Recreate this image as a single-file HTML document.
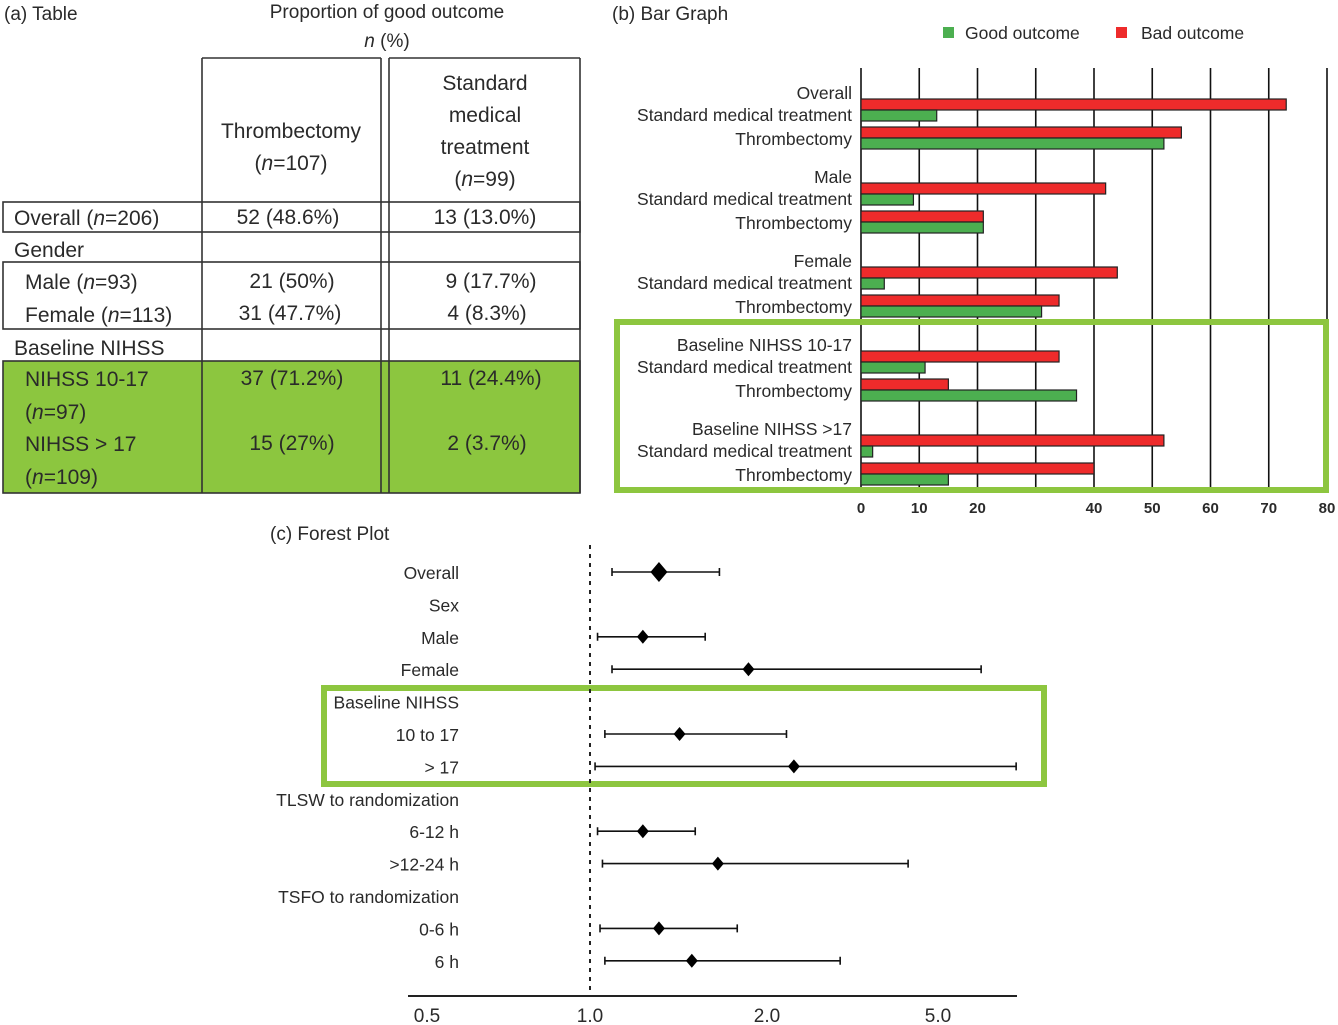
<!DOCTYPE html>
<html><head><meta charset="utf-8"><style>
html,body{margin:0;padding:0;background:#fff;}
svg{display:block;font-family:"Liberation Sans",sans-serif;}
text{fill:#2a2a2a;}
</style></head><body>
<svg id="fig" width="1338" height="1025" viewBox="0 0 1338 1025">
<g font-size="21">
  <text x="4" y="20" font-size="19">(a) Table</text>
  <text x="387" y="18" text-anchor="middle" font-size="19">Proportion of good outcome</text>
  <text x="387" y="47" text-anchor="middle" font-size="19"><tspan font-style="italic">n</tspan> (%)</text>
  <rect x="3" y="361" width="577" height="132" fill="#8cc63f"/>
  <g stroke="#333" stroke-width="1.6" fill="none">
    <line x1="202" y1="58" x2="202" y2="493"/><line x1="381" y1="58" x2="381" y2="493"/>
    <line x1="389" y1="58" x2="389" y2="493"/><line x1="580" y1="58" x2="580" y2="493"/>
    <line x1="202" y1="58" x2="381" y2="58"/><line x1="389" y1="58" x2="580" y2="58"/>
    <rect x="3" y="202" width="577" height="30"/>
    <rect x="3" y="262" width="577" height="67"/>
    <rect x="3" y="361" width="577" height="132"/>
  </g>
  <text x="291" y="138" text-anchor="middle">Thrombectomy</text>
  <text x="291" y="170" text-anchor="middle"><tspan>(</tspan><tspan font-style="italic">n</tspan><tspan>=107)</tspan></text>
  <text x="485" y="90" text-anchor="middle">Standard</text>
  <text x="485" y="122" text-anchor="middle">medical</text>
  <text x="485" y="154" text-anchor="middle">treatment</text>
  <text x="485" y="186" text-anchor="middle"><tspan>(</tspan><tspan font-style="italic">n</tspan><tspan>=99)</tspan></text>
  <text x="14" y="225">Overall (<tspan font-style="italic">n</tspan>=206)</text>
  <text x="288" y="224" text-anchor="middle">52 (48.6%)</text>
  <text x="485" y="224" text-anchor="middle">13 (13.0%)</text>
  <text x="14" y="257">Gender</text>
  <text x="25" y="289">Male (<tspan font-style="italic">n</tspan>=93)</text>
  <text x="292" y="288" text-anchor="middle">21 (50%)</text>
  <text x="491" y="288" text-anchor="middle">9 (17.7%)</text>
  <text x="25" y="322">Female (<tspan font-style="italic">n</tspan>=113)</text>
  <text x="290" y="320" text-anchor="middle">31 (47.7%)</text>
  <text x="487" y="320" text-anchor="middle">4 (8.3%)</text>
  <text x="14" y="355">Baseline NIHSS</text>
  <text x="25" y="386">NIHSS 10-17</text>
  <text x="25" y="419">(<tspan font-style="italic">n</tspan>=97)</text>
  <text x="292" y="385" text-anchor="middle">37 (71.2%)</text>
  <text x="491" y="385" text-anchor="middle">11 (24.4%)</text>
  <text x="25" y="451">NIHSS &gt; 17</text>
  <text x="25" y="484">(<tspan font-style="italic">n</tspan>=109)</text>
  <text x="292" y="450" text-anchor="middle">15 (27%)</text>
  <text x="487" y="450" text-anchor="middle">2 (3.7%)</text>
</g>
<g id="bar" font-size="17.5">
  <text x="612" y="20" font-size="19">(b) Bar Graph</text>
  <rect x="943" y="27" width="11" height="11" fill="#4caf50"/>
  <text x="965" y="39">Good outcome</text>
  <rect x="1116" y="27" width="11" height="11" fill="#ee2b2b"/>
  <text x="1141" y="39">Bad outcome</text>
  <g id="barGrid"></g><g id="barMarks"></g><g id="barLabels"></g>
  <rect x="617" y="322" width="709" height="168" fill="none" stroke="#8dc63f" stroke-width="6"/>
</g>
<g id="forest" font-size="17.5">
  <text x="270" y="540" font-size="19">(c) Forest Plot</text>
  <rect x="324" y="688" width="720" height="96" fill="none" stroke="#8dc63f" stroke-width="6"/>
  <line x1="590" y1="545" x2="590" y2="996" stroke="#222" stroke-width="2" stroke-dasharray="4,5"/>
  <line x1="408" y1="996" x2="1017" y2="996" stroke="#222" stroke-width="2"/>
  <g id="forestMarks"></g>
</g>
</svg>
<script>
// ---- Bar graph data ----
var barGroups = ["Overall","Male","Female","Baseline NIHSS 10-17","Baseline NIHSS >17"];
var barArms = ["Standard medical treatment","Thrombectomy"];
var badOutcome = [[73,55],[42,21],[44,34],[34,15],[52,40]];
var goodOutcome = [[13,52],[9,21],[4,31],[11,37],[2,15]];
var barTicks = [0,10,20,30,40,50,60,70,80];
var barTickLabels = ["0","10","20","","40","50","60","70","80"];
// ---- Forest data ----
var forestLabels = ["Overall","Sex","Male","Female","Baseline NIHSS","10 to 17","> 17","TLSW to randomization","6-12 h",">12-24 h","TSFO to randomization","0-6 h","6 h"];
var forestEst = [1.31,null,1.23,1.86,null,1.42,2.31,null,1.23,1.65,null,1.31,1.49];
var forestLo  = [1.09,null,1.03,1.09,null,1.06,1.02,null,1.03,1.05,null,1.04,1.06];
var forestHi  = [1.66,null,1.57,6.3,null,2.22,7.6,null,1.51,4.26,null,1.78,2.96];
var forestTicks = [0.5,1.0,2.0,5.0];
var forestTickLabels = ["0.5","1.0","2.0","5.0"];

var NS="http://www.w3.org/2000/svg";
function mk(tag,attrs,parent){var e=document.createElementNS(NS,tag);for(var k in attrs)e.setAttribute(k,attrs[k]);parent.appendChild(e);return e;}

var bx0=861, bpx=(1327-861)/80;
function bX(v){return bx0+v*bpx;}
function bY(g,i){return 99+84*g+28*i;}
var grid=document.getElementById('barGrid'), marks=document.getElementById('barMarks'), labs=document.getElementById('barLabels');
barTicks.forEach(function(t,k){
  var l=mk('line',{x1:bX(t),x2:bX(t),y1:68,y2:492,stroke:'#111','stroke-width':1.6},grid);
  
  
  var tx=mk('text',{x:bX(t),y:513,'text-anchor':'middle','font-weight':'bold','font-size':15},grid);
  tx.textContent=barTickLabels[k];
  
  
});
barGroups.forEach(function(g,gi){
  var gl=mk('text',{x:852,y:bY(gi,0)-0,'text-anchor':'end'},labs);
  gl.textContent=g;
  
  
  barArms.forEach(function(a,ai){
    var y=bY(gi,ai);
    var al=mk('text',{x:852,y:y+(ai===0?22:18),'text-anchor':'end'},labs);
    al.textContent=a;
    
    
    var r=mk('rect',{x:bX(0),y:y,width:bX(badOutcome[gi][ai])-bX(0),height:11,fill:'#ee2b2b',stroke:'#222','stroke-width':1.2},marks);
    
    
    var gr=mk('rect',{x:bX(0),y:y+11,width:bX(goodOutcome[gi][ai])-bX(0),height:11,fill:'#4caf50',stroke:'#222','stroke-width':1.2},marks);
    
    
  });
});

var fAnchorPx=[427,590,767,938];
function fX(v){
  var lv=Math.log(v), i=0;
  while(i < forestTicks.length-2 && lv > Math.log(forestTicks[i+1])) i++;
  var a=Math.log(forestTicks[i]), b=Math.log(forestTicks[i+1]);
  return fAnchorPx[i]+(lv-a)/(b-a)*(fAnchorPx[i+1]-fAnchorPx[i]);
}
function fY(i){return 572+32.4*i;}
var fm=document.getElementById('forestMarks');
forestTicks.forEach(function(t,k){
  var tx=mk('text',{x:fX(t),y:1022,'text-anchor':'middle','font-size':19},fm);
  tx.textContent=forestTickLabels[k];
  
  
});
forestLabels.forEach(function(lab,i){
  var y=fY(i);
  var tx=mk('text',{x:459,y:y+7,'text-anchor':'end'},fm);
  tx.textContent=lab;
  
  
  if(forestEst[i]==null) return;
  var x1=fX(forestLo[i]), x2=fX(forestHi[i]), xe=fX(forestEst[i]);
  var ci=mk('path',{d:'M'+x1+' '+y+'H'+x2+'M'+x1+' '+(y-4)+'V'+(y+4)+'M'+x2+' '+(y-4)+'V'+(y+4),stroke:'#111','stroke-width':1.6,fill:'none'},fm);
  
  
  var s=(i===0)?10:7;
  var d=mk('path',{d:'M'+xe+' '+(y-s)+'L'+(xe+s*0.85)+' '+y+'L'+xe+' '+(y+s)+'L'+(xe-s*0.85)+' '+y+'Z',fill:'#000'},fm);
  
  
});
</script>
</body></html>
